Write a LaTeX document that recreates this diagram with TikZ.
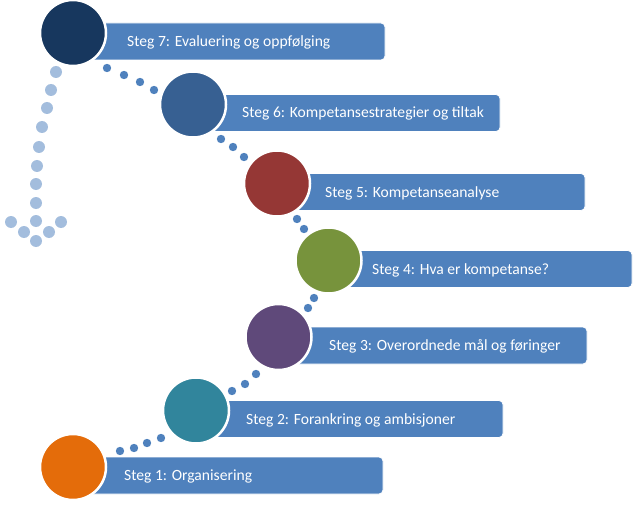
\documentclass[tikz,border=0pt]{standalone}
\usepackage{fontspec}
\setmainfont{Carlito}
\definecolor{boxblue}{HTML}{4F81BD}
\definecolor{lightdot}{HTML}{A3BDDD}
\definecolor{cA}{HTML}{E46C0A}
\definecolor{cB}{HTML}{31859C}
\definecolor{cC}{HTML}{5F497A}
\definecolor{cD}{HTML}{77933C}
\definecolor{cE}{HTML}{953735}
\definecolor{cF}{HTML}{376092}
\definecolor{cG}{HTML}{17375E}
\tikzset{
  stepbox/.style={fill=boxblue, draw=white, line width=0.8pt, rounded corners=4pt, inner sep=0pt},
  stepcircle/.style={circle, minimum size=66pt, inner sep=0pt, draw=white, line width=2.5pt},
  steptext/.style={anchor=base west, text=white, font=\fontsize{15.6}{18}\selectfont, inner sep=0pt},
  dot/.style={fill=boxblue},
  ldot/.style={fill=lightdot}
}
\begin{document}
\begin{tikzpicture}[x=1pt,y=-1pt]
\useasboundingbox (0,0) rectangle (639,505);
% light arrow dots
\foreach \x/\y in {56/72,51/90,47/108,42/127,39/147,37/166,36/184,36/203,36/221,36/241,11/222,24/232,49/232,61/222}
  \fill[ldot] (\x,\y) circle (6);
% dark connector dots
\foreach \x/\y in {107/68,124/75,140/82,154/90,
                   221/139,233/147,244/157,
                   297/219,304/229,
                   314/298,308/308,
                   256/374,245/384,232/391,
                   161/438,147/443,134/448,120/451}
  \fill[dot] (\x,\y) circle (4.2);
% boxes
\foreach \n/\cx/\cy/\r in {7/73/33/385, 6/193/104.5/500, 5/277/183.5/585, 4/328.5/260.5/632, 3/278.5/337/587, 2/196/410.5/503, 1/73/467/383}{
  \node[stepbox, minimum width={\r-\cx}, minimum height=37pt] (b\n) at ({(\cx+\r)/2},{\cy+8.5}) {};
}
% circles
\node[stepcircle, fill=cG] (c7) at (73,33) {};
\node[stepcircle, fill=cF] (c6) at (193,104.5) {};
\node[stepcircle, fill=cE] (c5) at (277,183.5) {};
\node[stepcircle, fill=cD] (c4) at (328.5,260.5) {};
\node[stepcircle, fill=cC] (c3) at (278.5,337) {};
\node[stepcircle, fill=cB] (c2) at (196,410.5) {};
\node[stepcircle, fill=cA] (c1) at (73,467) {};
% texts
\node[steptext] (t7) at (127,46.5) {Steg 7: Evaluering og oppfølging};
\node[steptext] (t6) at (242,118) {Steg 6: Kompetansestrategier og tiltak};
\node[steptext] (t5) at (325,197) {Steg 5: Kompetanseanalyse};
\node[steptext] (t4) at (372,274) {Steg 4: Hva er kompetanse?};
\node[steptext] (t3) at (329,350.5) {Steg 3: Overordnede mål og føringer};
\node[steptext] (t2) at (246,424) {Steg 2: Forankring og ambisjoner};
\node[steptext] (t1) at (124,480.5) {Steg 1: Organisering};
\end{tikzpicture}
\end{document}
